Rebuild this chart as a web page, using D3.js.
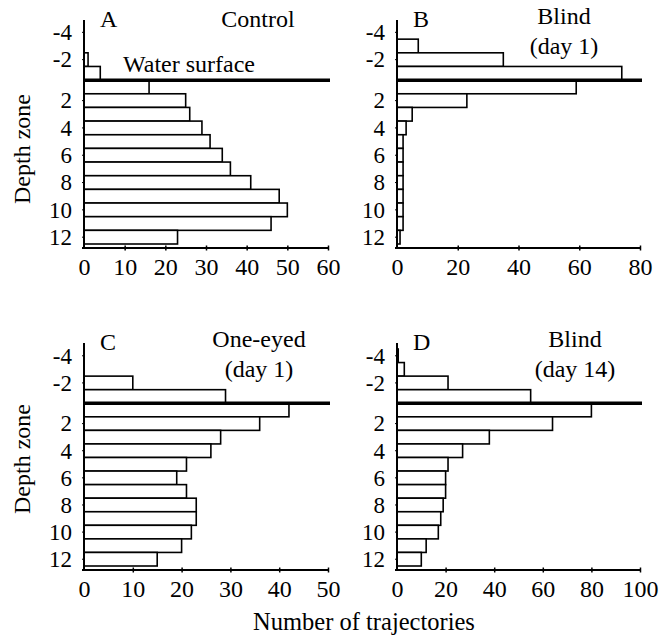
<!DOCTYPE html>
<html>
<head>
<meta charset="utf-8">
<script src="https://cdn.jsdelivr.net/npm/d3@7"></script>
<style>
  body { margin: 0; background: #fff; }
  svg { display: block; }
</style>
</head>
<body>
<svg width="670" height="637" font-family="'Liberation Serif', 'Times New Roman', serif"></svg>
<script>
const zones = [-4, -3, -2, -1, 1, 2, 3, 4, 5, 6, 7, 8, 9, 10, 11, 12];
const zoneTicks = [-4, -2, 2, 4, 6, 8, 10, 12];

const controlCounts = [0, 0, 1, 4, 16, 25, 26, 29, 31, 34, 36, 41, 48, 50, 46, 23];
const blindDay1Counts = [0, 7, 35, 74, 59, 23, 5, 3, 2, 2, 2, 2, 2, 2, 2, 1];
const oneEyedCounts = [0, 0, 10, 29, 42, 36, 28, 26, 21, 19, 21, 23, 23, 22, 20, 15];
const blindDay14Counts = [0.5, 3, 21, 55, 80, 64, 38, 27, 21, 20, 20, 19, 18, 17, 12, 10];

const panelLetters = ["A", "B", "C", "D"];
const panelTitles = [["Control"], ["Blind", "(day 1)"], ["One-eyed", "(day 1)"], ["Blind", "(day 14)"]];
const xMaxes = [60, 80, 50, 100];
const xSteps = [10, 20, 10, 20];
const series = [controlCounts, blindDay1Counts, oneEyedCounts, blindDay14Counts];

const FONT = "'Liberation Serif', 'Times New Roman', serif";
const svg = d3.select("svg");

// layout of the 2x2 grid
const cols = [
  { x0: 84, x1: 328 },
  { x0: 397, x1: 640 },
];
const rows = [
  { top: 20, bandTop: 25.5, bandBottom: 244, axisY: 248 },
  { top: 343, bandTop: 349, bandBottom: 566, axisY: 570 },
];
const titleCx = [[258, 564], [259, 575]];

series.forEach((values, i) => {
  const col = cols[i % 2];
  const row = rows[Math.floor(i / 2)];
  const rowIdx = Math.floor(i / 2);
  const g = svg.append("g");

  const x = d3.scaleLinear().domain([0, xMaxes[i]]).range([col.x0, col.x1]);
  const y = d3.scaleBand().domain(zones).range([row.bandTop, row.bandBottom]);

  const data = zones.map((z, k) => ({ zone: z, value: values[k] }));

  g.selectAll("rect")
    .data(data.filter((d) => d.value > 0))
    .join("rect")
    .attr("x", x(0))
    .attr("y", (d) => y(d.zone))
    .attr("width", (d) => x(d.value) - x(0))
    .attr("height", y.bandwidth())
    .attr("fill", "#fff")
    .attr("stroke", "#000")
    .attr("stroke-width", 1.6);

  // water surface line, between zone -1 and zone 1
  g.append("line")
    .attr("x1", x(0))
    .attr("x2", x(xMaxes[i]) + 2)
    .attr("y1", y(1))
    .attr("y2", y(1))
    .attr("stroke", "#000")
    .attr("stroke-width", 3.5);

  // x axis
  const xAxis = g
    .append("g")
    .attr("transform", `translate(0,${row.axisY})`)
    .call(
      d3
        .axisBottom(x)
        .tickValues(d3.range(0, xMaxes[i] + 1, xSteps[i]))
        .tickSize(3)
        .tickPadding(10)
    )
    .attr("font-family", FONT)
    .attr("font-size", 24);
  xAxis.select(".domain").remove();
  xAxis.selectAll(".tick line").attr("y1", -2.5).attr("y2", 2.5).attr("stroke-width", 1.5);
  xAxis.selectAll(".tick text").attr("dy", "0.58em");
  xAxis.select(".tick line").remove();

  g.append("line")
    .attr("x1", x(0) - 2)
    .attr("x2", x(xMaxes[i]) + 1)
    .attr("y1", row.axisY)
    .attr("y2", row.axisY)
    .attr("stroke", "#000")
    .attr("stroke-width", 2);

  // y axis
  const yAxis = g
    .append("g")
    .attr("transform", `translate(${x(0)},0)`)
    .call(d3.axisLeft(y).tickValues(zoneTicks).tickSize(2).tickPadding(10))
    .attr("font-family", FONT)
    .attr("font-size", 23);
  yAxis.select(".domain").remove();
  yAxis.selectAll(".tick text").attr("dy", "0.34em");

  g.append("line")
    .attr("x1", x(0))
    .attr("x2", x(0))
    .attr("y1", row.top)
    .attr("y2", row.axisY)
    .attr("stroke", "#000")
    .attr("stroke-width", 2);

  // panel letter and title
  const baseY = rowIdx === 0 ? 27 : 350;
  g.append("text")
    .attr("x", x(0) + 16)
    .attr("y", baseY)
    .attr("font-size", 24)
    .text(panelLetters[i]);

  const title = g
    .append("text")
    .attr("x", titleCx[rowIdx][i % 2])
    .attr("y", panelTitles[i].length > 1 ? baseY - 3 : baseY)
    .attr("font-size", 24)
    .attr("text-anchor", "middle");
  panelTitles[i].forEach((line, k) => {
    title.append("tspan")
      .attr("x", titleCx[rowIdx][i % 2])
      .attr("dy", k === 0 ? 0 : 30)
      .text(line);
  });

  if (i === 0) {
    g.append("text")
      .attr("x", 123)
      .attr("y", 72)
      .attr("font-size", 24)
      .text("Water surface");
  }
});

// shared axis titles
[149, 459].forEach((cy) => {
  svg.append("text")
    .attr("transform", `translate(30,${cy}) rotate(-90)`)
    .attr("text-anchor", "middle")
    .attr("font-size", 24)
    .text("Depth zone");
});

svg.append("text")
  .attr("x", 364)
  .attr("y", 630)
  .attr("text-anchor", "middle")
  .attr("font-size", 24.5)
  .text("Number of trajectories");
</script>
</body>
</html>
